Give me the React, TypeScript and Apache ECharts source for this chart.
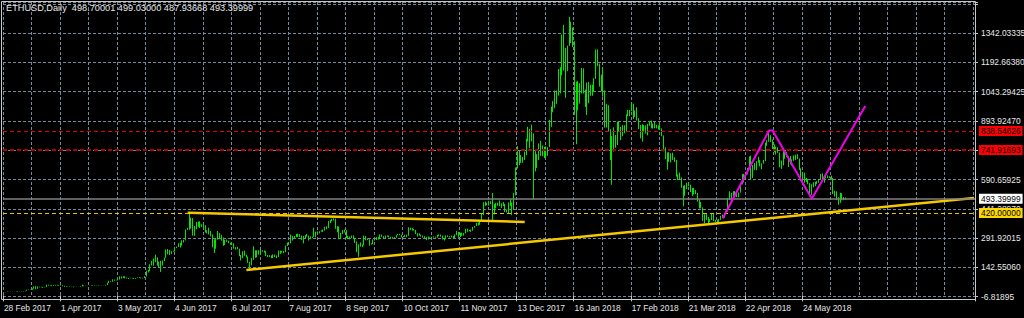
import React, { useEffect, useRef } from "react";
import * as echarts from "echarts";

// ---------- text ----------
const TITLE = "ETHUSD,Daily  498.70001 499.03000 487.93668 493.39999";
const MONTHS = ["Jan", "Feb", "Mar", "Apr", "May", "Jun", "Jul", "Aug", "Sep", "Oct", "Nov", "Dec"];
const FIRST_DAY = Date.UTC(2017, 1, 28);
const SKIPPED_DAYS = ["25 Dec 2017", "1 Jan 2018"];
const SLOT_COUNT = 545; // bar slots visible across the chart (incl. right shift)
const LAST_DATE_LABEL = "24 May 2018";

// ---------- price axis ----------
const Y_MIN = -6.81895;
const Y_STEP = 149.36955;
const Y_MAX = 1496.6;
const yTickLabels = [
  "-6.81895", "142.55060", "291.92015", "441.28970", "590.65925",
  "740.02880", "893.92470", "1043.29425", "1192.66380", "1342.03335",
];

// ---------- daily bars (28 Feb 2017 .. 17 Jun 2018) ----------
const FIRST_OPEN = 15.5;
const closes = [
  15.9,
  // Mar 2017
  17.3, 19.1, 19.6, 18.9, 19.4, 19.9, 19.0, 16.8, 17.8, 19.4, 21.4, 23.6, 28.5, 28.8, 28.5, 34.9, 44.6, 33.6, 43.5, 42.5, 42.7, 41.6, 43.0, 53.3, 50.4, 50.6, 49.4, 50.8, 52.8, 51.8, 50.0,
  // Apr 2017
  50.6, 48.6, 44.1, 44.4, 45.2, 43.2, 42.3, 44.3, 43.7, 43.7, 43.7, 46.3, 50.0, 47.8, 48.3, 48.4, 47.8, 49.9, 47.6, 49.4, 48.3, 48.6, 49.7, 50.3, 50.0, 53.8, 63.5, 72.2, 69.8, 79.8,
  // May 2017
  77.5, 77.3, 80.4, 94.8, 90.2, 96.6, 89.0, 88.2, 87.1, 88.6, 88.3, 85.2, 88.5, 89.2, 90.7, 87.8, 88.8, 97.0, 124.1, 123.8, 157.5, 166.6, 175.3, 193.6, 171.5, 158.0, 156.6, 176.5, 193.1, 229.0, 230.3,
  // Jun 2017
  222, 224, 226, 245, 248, 264, 257, 280, 280, 335, 340, 395, 388, 344, 346, 357, 375, 352, 360, 351, 325, 321, 326, 305, 281, 252, 286, 315, 292, 292,
  // Jul 2017
  258, 283, 276, 269, 266, 266, 240, 246, 237, 205, 190, 224, 205, 197, 170, 155, 190, 228, 194, 226, 216, 230, 228, 225, 204, 202, 203, 191, 205, 197, 202,
  // Aug 2017
  225, 218, 224, 220, 253, 262, 269, 296, 296, 299, 309, 308, 298, 300, 290, 301, 302, 294, 298, 298, 322, 314, 317, 325, 330, 333, 347, 347, 373, 384, 388,
  // Sep 2017
  387, 348, 351, 296, 313, 334, 330, 299, 296, 296, 293, 291, 275, 223, 259, 254, 258, 298, 283, 284, 259, 263, 284, 284, 296, 288, 309, 302, 292, 302,
  // Oct 2017
  303, 297, 292, 293, 295, 308, 311, 308, 297, 299, 303, 304, 337, 340, 336, 334, 316, 314, 308, 303, 300, 295, 286, 298, 297, 296, 296, 296, 307, 307, 305,
  // Nov 2017
  291, 287, 305, 301, 297, 297, 292, 309, 320, 299, 314, 307, 316, 337, 333, 330, 332, 347, 354, 367, 360, 380, 410, 474, 466, 471, 480, 472, 428, 447,
  // Dec 2017 (no 25th)
  466, 463, 465, 470, 463, 428, 434, 456, 473, 441, 515, 651, 702, 696, 684, 693, 719, 794, 827, 820, 822, 699, 718, 694, 774, 763, 712, 755, 712, 756,
  // Jan 2018 (no 1st)
  884, 962, 980, 997, 1041, 1153, 1148, 1300, 1255, 1154, 1273, 1396, 1366, 1292, 1061, 1026, 1039, 1036, 1155, 1050, 1002, 987, 1058, 1047, 1053, 1107, 1247, 1182, 1071, 1118,
  // Feb 2018
  1037, 916, 965, 835, 697, 793, 757, 817, 884, 860, 814, 868, 837, 923, 936, 944, 974, 914, 943, 895, 851, 807, 864, 840, 845, 869, 878, 855,
  // Mar 2018
  872, 856, 857, 866, 850, 815, 752, 700, 727, 682, 721, 699, 690, 613, 611, 601, 552, 538, 556, 558, 563, 541, 539, 523, 522, 484, 448, 445, 385, 394, 397,
  // Apr 2018
  379, 386, 416, 380, 382, 370, 385, 400, 398, 414, 430, 493, 492, 502, 531, 511, 502, 525, 567, 616, 606, 621, 644, 707, 617, 662, 644, 683, 689, 670,
  // May 2018
  673, 687, 779, 785, 816, 793, 752, 751, 752, 729, 680, 686, 730, 726, 709, 708, 668, 693, 697, 717, 697, 647, 601, 624, 586, 586, 570, 516, 565, 564, 578,
  // Jun 2018
  580, 591, 619, 592, 608, 606, 604, 600, 599, 525, 527, 495, 476, 519, 487, 498.70001, 493.39999,
];
const highs = [
  16.5,
  17.5, 19.5, 20.3, 19.6, 19.5, 20.2, 20.3, 19.1, 18.4, 19.5, 21.7, 24.0, 28.8, 30.1, 28.9, 36.1, 45.3, 46.5, 45.4, 44.3, 43.8, 42.9, 43.6, 54.8, 54.3, 51.7, 51.8, 51.8, 53.2, 54.0, 51.6,
  51.7, 51.5, 48.8, 45.9, 45.6, 45.4, 43.7, 44.8, 44.8, 44.6, 44.2, 46.8, 54.7, 50.7, 48.7, 48.7, 48.6, 50.1, 50.3, 50.3, 49.0, 49.3, 50.1, 50.7, 50.7, 54.5, 63.8, 74.5, 73.0, 81.8,
  80.6, 79.8, 80.9, 97.5, 96.0, 97.2, 97.3, 91.1, 89.1, 89.5, 89.4, 88.9, 88.6, 91.8, 92.8, 91.1, 89.5, 97.3, 126.0, 129.8, 158.5, 176.0, 188.0, 207.5, 192.7, 167.7, 176.2, 177.9, 193.1, 234.2, 236.3,
  232, 225, 228, 246, 249, 265, 268, 281, 283, 336, 345, 422, 397, 394, 354, 375, 376, 378, 363, 369, 358, 332, 345, 328, 311, 286, 287, 328, 319, 309,
  295, 284, 285, 279, 269, 268, 266, 246, 248, 238, 206, 225, 228, 208, 198, 172, 191, 250, 230, 230, 230, 233, 230, 229, 226, 206, 205, 204, 209, 208, 204,
  229, 228, 226, 227, 254, 269, 270, 310, 304, 303, 313, 315, 312, 305, 303, 307, 313, 305, 301, 300, 345, 325, 326, 327, 332, 336, 350, 352, 379, 384, 391,
  393, 391, 353, 348, 319, 334, 336, 333, 303, 300, 305, 306, 294, 274, 260, 270, 260, 305, 303, 291, 286, 266, 285, 288, 297, 297, 311, 310, 302, 305,
  306, 305, 299, 298, 297, 309, 313, 314, 309, 303, 309, 309, 347, 345, 343, 339, 334, 317, 317, 310, 305, 302, 297, 300, 298, 299, 301, 299, 309, 311, 310,
  305, 293, 306, 306, 302, 305, 303, 311, 329, 324, 319, 320, 318, 340, 340, 334, 336, 349, 354, 370, 372, 381, 420, 475, 478, 473, 482, 480, 522, 466,
  472, 473, 484, 470, 476, 467, 438, 474, 491, 474, 522, 652, 761, 738, 716, 706, 734, 798, 860, 850, 871, 826, 736, 720, 775, 788, 765, 757, 760, 756,
  895, 963, 991, 1045, 1045, 1155, 1164, 1330, 1380, 1263, 1274, 1421, 1396, 1366, 1296, 1090, 1095, 1082, 1160, 1158, 1050, 1085, 1089, 1075, 1074, 1108, 1254, 1255, 1177, 1126,
  1162, 1045, 976, 970, 847, 813, 857, 818, 886, 887, 858, 868, 867, 923, 946, 946, 983, 978, 943, 960, 903, 869, 873, 869, 867, 874, 888, 892,
  876, 884, 870, 867, 868, 852, 816, 755, 729, 731, 725, 728, 704, 691, 617, 626, 602, 560, 562, 575, 576, 565, 547, 548, 537, 523, 488, 476, 448, 414, 418,
  400, 389, 417, 416, 386, 386, 390, 406, 412, 419, 432, 497, 531, 523, 531, 532, 520, 525, 572, 618, 620, 620, 650, 709, 712, 665, 676, 685, 707, 690,
  673, 691, 779, 792, 834, 817, 795, 770, 758, 756, 726, 688, 735, 736, 731, 709, 711, 694, 714, 718, 720, 698, 648, 625, 626, 600, 593, 573, 567, 577, 580,
  583, 592, 619, 622, 611, 611, 612, 608, 611, 599, 534, 531, 501, 523, 521, 502, 499.03,
];
const lows = [
  15.2,
  15.8, 17.2, 19.0, 18.5, 18.6, 19.3, 18.5, 16.4, 16.8, 17.8, 19.4, 21.1, 23.6, 27.2, 27.3, 28.4, 34.0, 31.4, 33.6, 40.8, 40.8, 38.5, 40.7, 42.3, 49.5, 48.9, 47.3, 48.1, 49.6, 50.0, 48.5,
  49.4, 46.8, 43.5, 43.1, 43.4, 42.9, 42.2, 41.7, 43.4, 43.0, 43.3, 43.5, 46.2, 46.7, 47.3, 47.2, 47.7, 47.6, 47.5, 47.3, 47.5, 47.5, 48.5, 49.6, 49.7, 49.9, 53.0, 62.9, 69.0, 69.9,
  74.9, 75.7, 77.1, 80.4, 86.1, 88.1, 86.6, 85.6, 83.0, 86.9, 86.3, 83.7, 84.1, 88.0, 88.0, 86.7, 86.4, 88.0, 96.9, 116.9, 123.9, 152.4, 151.5, 169.3, 152.1, 143.2, 119.5, 151.9, 174.7, 191.6, 209.8,
  205, 211, 223, 224, 242, 247, 244, 254, 270, 280, 334, 335, 340, 305, 304, 337, 350, 344, 349, 343, 321, 316, 311, 301, 245, 216, 238, 284, 287, 279,
  253, 257, 273, 266, 258, 257, 238, 234, 235, 200, 178, 191, 202, 193, 166, 131, 153, 181, 192, 194, 208, 208, 223, 218, 201, 195, 196, 190, 190, 195, 190,
  195, 212, 219, 215, 220, 252, 259, 266, 280, 293, 297, 298, 298, 283, 265, 290, 299, 280, 287, 293, 298, 296, 313, 316, 325, 324, 331, 337, 344, 369, 378,
  382, 340, 322, 286, 287, 314, 321, 292, 287, 286, 292, 287, 267, 220, 197, 249, 247, 255, 281, 282, 253, 259, 261, 280, 282, 285, 287, 299, 288, 290,
  299, 296, 289, 289, 292, 294, 307, 307, 295, 297, 299, 297, 305, 334, 331, 331, 313, 300, 305, 300, 294, 292, 282, 285, 294, 294, 295, 294, 294, 302, 300,
  285, 280, 287, 298, 295, 296, 290, 295, 307, 294, 298, 304, 305, 316, 324, 328, 324, 330, 345, 354, 357, 360, 380, 412, 457, 459, 458, 466, 377, 413,
  444, 457, 455, 446, 455, 425, 423, 418, 456, 409, 438, 510, 647, 664, 676, 676, 691, 715, 785, 750, 786, 490, 632, 650, 690, 712, 710, 700, 705, 713,
  756, 860, 934, 955, 977, 1019, 1030, 1122, 1147, 1008, 1144, 1283, 1287, 1267, 920, 771, 944, 978, 1030, 1030, 961, 920, 980, 1018, 1018, 1038, 1105, 1169, 1065, 1040,
  1014, 856, 856, 834, 690, 564, 734, 753, 767, 835, 792, 812, 827, 832, 914, 914, 939, 900, 910, 892, 848, 801, 784, 833, 826, 816, 865, 852,
  851, 853, 852, 846, 846, 812, 735, 695, 641, 681, 678, 691, 680, 606, 588, 591, 549, 455, 508, 542, 557, 527, 507, 515, 516, 478, 443, 444, 380, 368, 385,
  359, 373, 384, 379, 373, 364, 367, 385, 395, 396, 414, 428, 487, 489, 502, 504, 501, 501, 524, 566, 576, 598, 617, 643, 591, 599, 640, 638, 677, 658,
  644, 672, 685, 763, 784, 782, 746, 730, 718, 727, 653, 645, 663, 697, 705, 655, 668, 663, 686, 690, 695, 640, 584, 575, 575, 579, 567, 515, 513, 551, 557,
  567, 574, 591, 590, 575, 597, 598, 599, 590, 517, 504, 486, 462, 472, 485, 486, 487.94,
];

// ---------- drawn objects (bar index, price) ----------
const upperTrend: [number, number][] = [[103, 421.7], [292, 374.3]];
const lowerTrend: [number, number][] = [[136, 129.4], [544, 497]];
const zigzag: [number, number][] = [[403, 392], [429, 841], [431, 841], [453, 493.2], [483, 966]];

const LEVEL_HIGH = 838.54626;
const LEVEL_MID = 741.91693;
const LEVEL_BID = 493.39999;
const LEVEL_SUPPORT = 420.0;

const FONT = "Liberation Sans";
const AXIS_FONT_SIZE = 8.4;

function buildDates(): string[] {
  const out: string[] = [];
  let t = FIRST_DAY;
  while (out.length < SLOT_COUNT) {
    const d = new Date(t);
    const s = `${d.getUTCDate()} ${MONTHS[d.getUTCMonth()]} ${d.getUTCFullYear()}`;
    if (!SKIPPED_DAYS.includes(s)) out.push(s);
    t += 86400000;
  }
  return out;
}

function buildOhlc(): number[][] {
  return closes.map((c, i) => {
    const o = i === 0 ? FIRST_OPEN : closes[i - 1];
    const h = Math.max(highs[i] ?? c, o, c);
    const l = Math.min(lows[i] ?? c, o, c);
    return [o, c, l, h];
  });
}

function levelLabel(text: string, bg: string) {
  return {
    show: true,
    position: "end" as const,
    distance: 4,
    formatter: text,
    color: "#000000",
    backgroundColor: bg,
    padding: [1, 2, 1, 2],
    fontSize: AXIS_FONT_SIZE,
    fontFamily: FONT,
  };
}

export default function App() {
  const ref = useRef<HTMLDivElement>(null);

  useEffect(() => {
    document.body.style.margin = "0";
    document.body.style.background = "#000";
    if (!ref.current) return;
    const chart = echarts.init(ref.current, undefined, { renderer: "svg" });
    const dates = buildDates();
    const ohlc = buildOhlc();
    const lastLabelIdx = dates.indexOf(LAST_DATE_LABEL);
    const showDate = (i: number) => i % 32 === 0 && i <= lastLabelIdx;

    chart.setOption({
      animation: false,
      backgroundColor: "#000000",
      grid: { left: 3, right: 49, top: 2, bottom: 21.3, containLabel: false, outerBoundsMode: "none" },
      xAxis: {
        type: "category",
        data: dates,
        boundaryGap: true,
        axisLine: { show: false },
        axisTick: {
          show: true,
          interval: showDate,
          length: 6,
          lineStyle: { color: "#c8c8c8" },
        },
        axisLabel: {
          interval: showDate,
          color: "#e8e8e8",
          fontSize: AXIS_FONT_SIZE,
          fontFamily: FONT,
          align: "left",
          margin: 7,
        },
        splitLine: {
          show: true,
          interval: (i: number) => i % 16 === 0,
          lineStyle: { color: "#778899", type: [3, 2], width: 1 },
        },
      },
      yAxis: {
        type: "value",
        position: "right",
        min: Y_MIN,
        max: Y_MAX,
        interval: Y_STEP,
        scale: true,
        axisLine: { show: false },
        axisTick: { show: true, length: 3, lineStyle: { color: "#c8c8c8" } },
        axisLabel: {
          color: "#e8e8e8",
          fontSize: AXIS_FONT_SIZE,
          fontFamily: FONT,
          margin: 6,
          formatter: (v: number) => {
            const k = Math.round((v - Y_MIN) / Y_STEP);
            return yTickLabels[k] ?? "";
          },
        },
        splitLine: { show: true, lineStyle: { color: "#778899", type: [3, 2], width: 1 } },
      },
      series: [
        {
          type: "candlestick",
          data: ohlc,
          barWidth: 1,
          itemStyle: {
            color: "#00a800",
            color0: "#00a800",
            borderColor: "#00e600",
            borderColor0: "#00e600",
            borderWidth: 1,
          },
          markLine: {
            silent: true,
            symbol: ["none", "none"],
            animation: false,
            data: [
              {
                yAxis: LEVEL_HIGH,
                lineStyle: { color: "#e00000", type: [4, 3], width: 1 },
                label: levelLabel("838.54626", "#ff0000"),
              },
              {
                yAxis: LEVEL_MID,
                lineStyle: { color: "#b00000", type: [4, 3], width: 2 },
                label: levelLabel("741.91693", "#ff0000"),
              },
              {
                yAxis: LEVEL_BID,
                lineStyle: { color: "#808080", type: "solid", width: 1.5 },
                label: levelLabel("493.39999", "#ffffff"),
              },
              {
                yAxis: LEVEL_SUPPORT,
                lineStyle: { color: "#e6c200", type: [4, 3], width: 1 },
                label: levelLabel("420.00000", "#ffd700"),
              },
            ],
          },
          z: 2,
        },
        {
          type: "line",
          data: upperTrend,
          symbol: "none",
          lineStyle: { color: "#f5c800", width: 2.5 },
          z: 4,
        },
        {
          type: "line",
          data: lowerTrend,
          symbol: "none",
          lineStyle: { color: "#f5c800", width: 2.5 },
          z: 4,
        },
        {
          type: "line",
          data: zigzag,
          symbol: "none",
          lineStyle: { color: "#ee00ee", width: 2 },
          z: 5,
        },
      ],
      graphic: [
        {
          type: "rect",
          silent: true,
          z: 100,
          shape: { x: 1.5, y: 1.5, width: 974, height: 298 },
          style: { fill: "none", stroke: "#c8c8c8", lineWidth: 1 },
        },
        {
          type: "text",
          silent: true,
          z: 101,
          x: 6,
          y: 8,
          style: {
            text: TITLE,
            fill: "#e8e8e8",
            fontSize: 9.2,
            fontFamily: FONT,
            verticalAlign: "middle",
          },
        },
      ],
    });

    return () => chart.dispose();
  }, []);

  return (
    <div
      ref={ref}
      style={{ position: "fixed", left: 0, top: 0, width: 1024, height: 318, background: "#000" }}
    />
  );
}
